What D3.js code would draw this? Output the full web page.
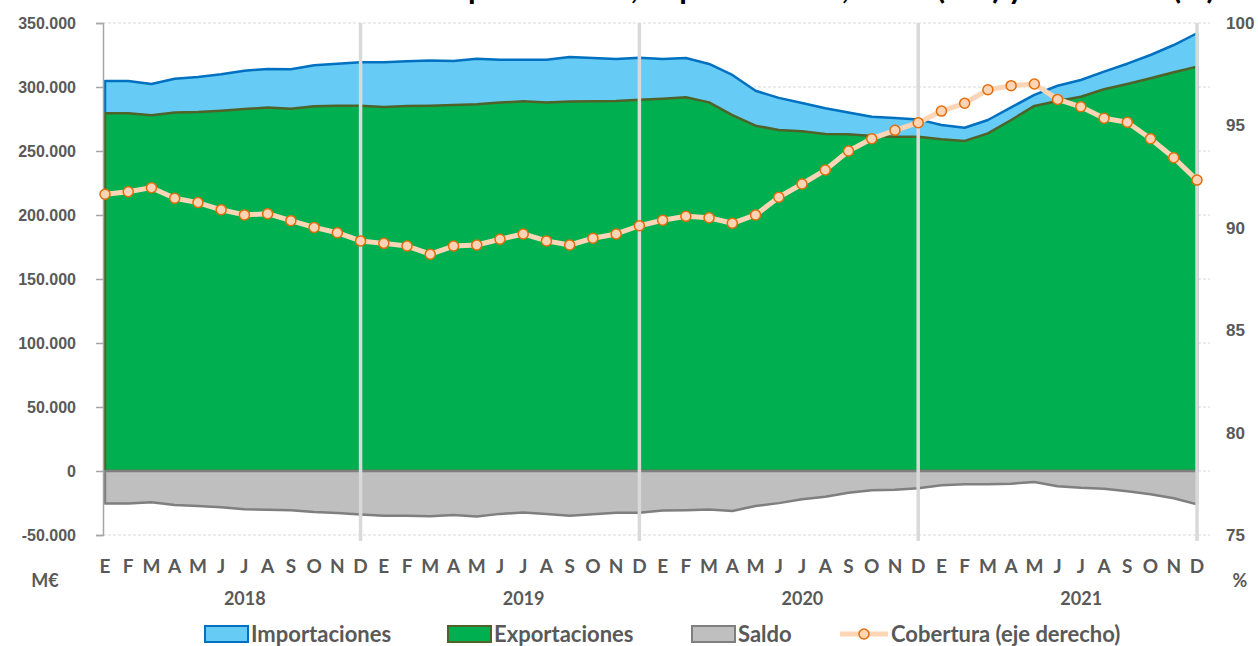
<!DOCTYPE html>
<html>
<head>
<meta charset="utf-8">
<script src="https://cdn.jsdelivr.net/npm/d3@7"></script>
<style>
  html, body { margin: 0; padding: 0; background: #fff; }
  svg { display: block; font-family: Lato, "Open Sans", sans-serif; }
</style>
</head>
<body>
<svg id="chart"></svg>
<script>
// chart data (M€ and %)
const months = ["E", "F", "M", "A", "M", "J", "J", "A", "S", "O", "N", "D"];
const years = ["2018", "2019", "2020", "2021"];

const importaciones = [
  304700, 304700, 302300, 306500, 307800, 309900, 312700, 314100, 313800, 317000, 318200, 319300,
  319300, 320100, 320800, 320300, 322000, 321300, 321300, 321300, 323500, 322700, 321800, 322800,
  321800, 322600, 318000, 309400, 297100, 291500, 287500, 283400, 280000, 276800, 275800, 274700,
  270300, 268200, 274200, 284100, 293800, 301000, 305500, 312000, 318200, 325000, 332800, 342000
];
const exportaciones = [
  279400, 279400, 277900, 280000, 280500, 281500, 282800, 283900, 283100, 284900, 285400, 285400,
  284400, 285200, 285400, 286000, 286500, 287800, 288900, 287800, 288600, 288900, 289100, 290100,
  290900, 292000, 288000, 278100, 269800, 266400, 265400, 263300, 263000, 261700, 261200, 261200,
  259100, 257800, 263800, 274200, 285200, 289100, 292400, 298200, 302300, 306800, 311500, 315900
];
const saldo = [
  -25300, -25300, -24400, -26500, -27300, -28400, -29900, -30200, -30700, -32100, -32800, -33900,
  -34900, -34900, -35400, -34300, -35500, -33500, -32400, -33500, -34900, -33800, -32700, -32700,
  -30900, -30600, -30000, -31300, -27300, -25100, -22100, -20100, -17000, -15100, -14600, -13500,
  -11200, -10400, -10400, -9900, -8600, -11900, -13100, -13800, -15900, -18200, -21300, -26100
];
const cobertura = [
  91.64, 91.76, 91.96, 91.44, 91.23, 90.88, 90.63, 90.69, 90.35, 90.02, 89.76, 89.36,
  89.24, 89.11, 88.71, 89.11, 89.16, 89.44, 89.70, 89.36, 89.16, 89.49, 89.70, 90.10,
  90.37, 90.56, 90.49, 90.22, 90.63, 91.49, 92.14, 92.82, 93.75, 94.35, 94.76, 95.13,
  95.70, 96.08, 96.74, 96.94, 97.02, 96.27, 95.91, 95.35, 95.15, 94.35, 93.42, 92.33
];
const leftTicks = [-50000, 0, 50000, 100000, 150000, 200000, 250000, 300000, 350000];
const rightTicks = [75, 80, 85, 90, 95, 100];

const width = 1258, height = 646;
const svg = d3.select("#chart").attr("width", width).attr("height", height);

const textColor = "#595959";

// one key per month
const keys = [];
years.forEach(y => months.forEach((m, i) => keys.push(y + "-" + i)));

const x = d3.scalePoint().domain(keys).range([105, 1197]);
const yL = d3.scaleLinear().domain([-50000, 350000]).range([535, 23]);
const yR = d3.scaleLinear().domain([75, 100]).range([535, 23]);

const es = d3.formatLocale({decimal: ",", thousands: ".", grouping: [3], currency: ["", "€"], minus: "-"});
const fmt = es.format(",.0f");

// horizontal gridlines (dashed)
svg.append("g").selectAll("line")
  .data(leftTicks)
  .join("line")
  .attr("x1", 103).attr("x2", 1210)
  .attr("y1", d => yL(d)).attr("y2", d => yL(d))
  .attr("stroke", "#d9d9d9")
  .attr("stroke-dasharray", "3,2");

// areas
const area = values => d3.area()
  .x((d, i) => x(keys[i]))
  .y0(yL(0))
  .y1(d => yL(d))(values);

svg.append("path").attr("d", area(importaciones))
  .attr("fill", "#66ccf5").attr("stroke", "#0070c0").attr("stroke-width", 2.5)
  .attr("stroke-linejoin", "round");
svg.append("path").attr("d", area(exportaciones))
  .attr("fill", "#00b050").attr("stroke", "#4f6228").attr("stroke-width", 2.5)
  .attr("stroke-linejoin", "round");
svg.append("path").attr("d", area(saldo))
  .attr("fill", "#bfbfbf").attr("stroke", "#7f7f7f").attr("stroke-width", 2.5)
  .attr("stroke-linejoin", "round");

// year separators at each December
svg.append("g").selectAll("line")
  .data(years)
  .join("line")
  .attr("x1", d => x(d + "-11")).attr("x2", d => x(d + "-11"))
  .attr("y1", 23).attr("y2", 541)
  .attr("stroke", "#d9d9d9").attr("stroke-width", 3.5);

// left axis
const axisL = svg.append("g")
  .attr("transform", "translate(103,0)")
  .call(d3.axisLeft(yL).tickValues(leftTicks).tickFormat(fmt).tickSize(7).tickPadding(20));
axisL.select(".domain").attr("stroke", "#a6a6a6").attr("stroke-width", 1.5);
axisL.selectAll(".tick line").attr("stroke", "#a6a6a6").attr("stroke-width", 1.5);
axisL.selectAll(".tick text")
  .attr("fill", textColor).style("font-size", "16px").style("font-weight", "bold");

// right axis labels
const axisR = svg.append("g")
  .attr("transform", "translate(1210,0)")
  .call(d3.axisRight(yR).tickValues(rightTicks).tickSize(0).tickPadding(16));
axisR.select(".domain").remove();
axisR.selectAll(".tick text")
  .attr("fill", textColor).style("font-size", "17px").style("font-weight", "bold");

// cobertura line on right scale
const line = d3.line()
  .x((d, i) => x(keys[i]))
  .y(d => yR(d));
svg.append("path").attr("d", line(cobertura))
  .attr("fill", "none").attr("stroke", "#fbd5b5").attr("stroke-width", 5)
  .attr("stroke-linejoin", "round");
svg.append("g").selectAll("circle")
  .data(cobertura)
  .join("circle")
  .attr("cx", (d, i) => x(keys[i]))
  .attr("cy", d => yR(d))
  .attr("r", 5)
  .attr("fill", "#fbd5b5").attr("stroke", "#e46c0a").attr("stroke-width", 1.5);

// month labels and years
svg.append("g").selectAll("text")
  .data(keys)
  .join("text")
  .attr("x", d => x(d))
  .attr("y", 573)
  .attr("text-anchor", "middle")
  .attr("fill", textColor).style("font-size", "19px").style("font-weight", "bold")
  .text(d => months[+d.split("-")[1]]);

svg.append("g").selectAll("text")
  .data(years)
  .join("text")
  .attr("x", d => (x(d + "-0") + x(d + "-11")) / 2 + 12)
  .attr("y", 605)
  .attr("text-anchor", "middle")
  .attr("fill", textColor).style("font-size", "18px").style("font-weight", "bold")
  .text(d => d);

svg.append("text").attr("x", 45).attr("y", 587).attr("text-anchor", "middle")
  .attr("fill", textColor).style("font-size", "18px").style("font-weight", "bold").text("M€");
svg.append("text").attr("x", 1240).attr("y", 587).attr("text-anchor", "middle")
  .attr("fill", textColor).style("font-size", "18px").style("font-weight", "bold").text("%");

// title, mostly cut off at the top as in the source picture
svg.append("text").attr("x", 1215).attr("y", -1).attr("text-anchor", "end")
  .attr("fill", "#000").style("font-size", "31px").style("font-weight", "bold")
  .text("Exportaciones, importaciones, saldo (M€) y cobertura (%)");

// legend
const legend = svg.append("g").style("font-size", "22px").style("font-weight", "bold");
const swatches = [
  {x: 205, label: "Importaciones", fill: "#66ccf5", stroke: "#0070c0"},
  {x: 448, label: "Exportaciones", fill: "#00b050", stroke: "#4f6228"},
  {x: 692, label: "Saldo", fill: "#bfbfbf", stroke: "#7f7f7f"}
];
swatches.forEach(s => {
  legend.append("rect").attr("x", s.x).attr("y", 626).attr("width", 43).attr("height", 16)
    .attr("fill", s.fill).attr("stroke", s.stroke).attr("stroke-width", 2);
  legend.append("text").attr("x", s.x + 46).attr("y", 642)
    .attr("fill", textColor).text(s.label);
});
legend.append("line").attr("x1", 840).attr("x2", 888).attr("y1", 634).attr("y2", 634)
  .attr("stroke", "#fbd5b5").attr("stroke-width", 5);
legend.append("circle").attr("cx", 864).attr("cy", 634).attr("r", 5)
  .attr("fill", "#fbd5b5").attr("stroke", "#e46c0a").attr("stroke-width", 1.5);
legend.append("text").attr("x", 891).attr("y", 642)
  .attr("fill", textColor).text("Cobertura (eje derecho)");
</script>
</body>
</html>
